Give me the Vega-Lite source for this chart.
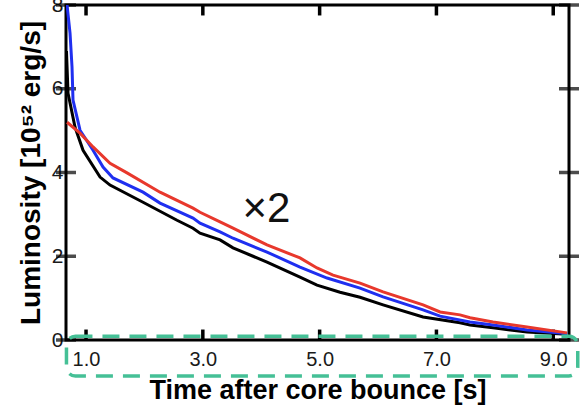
{
  "$schema": "https://vega.github.io/schema/vega-lite/v6.json",
  "width": 503,
  "height": 335,
  "autosize": {"type": "none"},
  "padding": {"left": 66, "top": 5, "right": 13, "bottom": 66},
  "background": "white",
  "config": {
    "font": "Liberation Sans",
    "view": {"stroke": "black", "strokeWidth": 3},
    "axis": {
      "domain": false,
      "ticks": false,
      "grid": false,
      "labelFont": "Liberation Sans",
      "labelFontSize": 20,
      "labelColor": "#1a1a1a",
      "titleFont": "Liberation Sans",
      "titleFontWeight": "bold",
      "titleColor": "black"
    }
  },
  "datasets": {
    "curves": [
      {"series": "black", "t": 0.665, "L": 6.9},
      {"series": "black", "t": 0.692, "L": 5.89},
      {"series": "black", "t": 0.812, "L": 5.08},
      {"series": "black", "t": 0.949, "L": 4.53},
      {"series": "black", "t": 1.24, "L": 3.89},
      {"series": "black", "t": 1.411, "L": 3.7},
      {"series": "black", "t": 1.976, "L": 3.29},
      {"series": "black", "t": 2.558, "L": 2.86},
      {"series": "black", "t": 2.832, "L": 2.67},
      {"series": "black", "t": 2.952, "L": 2.55},
      {"series": "black", "t": 3.295, "L": 2.39},
      {"series": "black", "t": 3.517, "L": 2.2},
      {"series": "black", "t": 4.099, "L": 1.86},
      {"series": "black", "t": 4.664, "L": 1.5},
      {"series": "black", "t": 4.955, "L": 1.31},
      {"series": "black", "t": 5.349, "L": 1.14},
      {"series": "black", "t": 5.692, "L": 1.02},
      {"series": "black", "t": 6.086, "L": 0.84},
      {"series": "black", "t": 6.771, "L": 0.55},
      {"series": "black", "t": 7.404, "L": 0.41},
      {"series": "black", "t": 7.575, "L": 0.36},
      {"series": "black", "t": 7.969, "L": 0.29},
      {"series": "black", "t": 8.551, "L": 0.19},
      {"series": "black", "t": 9.236, "L": 0.14},

      {"series": "blue", "t": 0.675, "L": 8.0},
      {"series": "blue", "t": 0.726, "L": 7.33},
      {"series": "blue", "t": 0.76, "L": 6.52},
      {"series": "blue", "t": 0.777, "L": 5.73},
      {"series": "blue", "t": 0.897, "L": 5.01},
      {"series": "blue", "t": 1.12, "L": 4.53},
      {"series": "blue", "t": 1.291, "L": 4.13},
      {"series": "blue", "t": 1.462, "L": 3.87},
      {"series": "blue", "t": 1.976, "L": 3.53},
      {"series": "blue", "t": 2.267, "L": 3.27},
      {"series": "blue", "t": 2.832, "L": 2.91},
      {"series": "blue", "t": 2.952, "L": 2.79},
      {"series": "blue", "t": 3.295, "L": 2.58},
      {"series": "blue", "t": 3.517, "L": 2.43},
      {"series": "blue", "t": 4.099, "L": 2.1},
      {"series": "blue", "t": 4.664, "L": 1.74},
      {"series": "blue", "t": 5.127, "L": 1.48},
      {"series": "blue", "t": 5.692, "L": 1.24},
      {"series": "blue", "t": 6.086, "L": 1.03},
      {"series": "blue", "t": 6.771, "L": 0.72},
      {"series": "blue", "t": 7.062, "L": 0.57},
      {"series": "blue", "t": 7.575, "L": 0.43},
      {"series": "blue", "t": 7.969, "L": 0.36},
      {"series": "blue", "t": 8.551, "L": 0.24},
      {"series": "blue", "t": 9.116, "L": 0.17},
      {"series": "blue", "t": 9.24, "L": 0.15},

      {"series": "red", "t": 0.675, "L": 5.2},
      {"series": "red", "t": 0.897, "L": 4.94},
      {"series": "red", "t": 1.12, "L": 4.61},
      {"series": "red", "t": 1.411, "L": 4.22},
      {"series": "red", "t": 1.702, "L": 3.99},
      {"series": "red", "t": 2.267, "L": 3.53},
      {"series": "red", "t": 2.832, "L": 3.15},
      {"series": "red", "t": 2.952, "L": 3.05},
      {"series": "red", "t": 3.295, "L": 2.82},
      {"series": "red", "t": 3.517, "L": 2.67},
      {"series": "red", "t": 4.099, "L": 2.27},
      {"series": "red", "t": 4.664, "L": 1.96},
      {"series": "red", "t": 4.955, "L": 1.72},
      {"series": "red", "t": 5.229, "L": 1.55},
      {"series": "red", "t": 5.692, "L": 1.36},
      {"series": "red", "t": 6.086, "L": 1.15},
      {"series": "red", "t": 6.771, "L": 0.84},
      {"series": "red", "t": 7.062, "L": 0.67},
      {"series": "red", "t": 7.404, "L": 0.6},
      {"series": "red", "t": 7.575, "L": 0.53},
      {"series": "red", "t": 7.969, "L": 0.43},
      {"series": "red", "t": 8.551, "L": 0.31},
      {"series": "red", "t": 9.236, "L": 0.17}
    ],
    "xticks": [{"t": 1}, {"t": 3}, {"t": 5}, {"t": 7}, {"t": 9}],
    "yticks": [{"L": 0}, {"L": 2}, {"L": 4}, {"L": 6}, {"L": 8}],
    "note": [
      {"t": 4.09, "L": 2.82, "label": "×2"}
    ],
    "highlight": [
      {"t0": 0.665, "t1": 9.42, "L0": 0.09, "L1": -0.86}
    ]
  },
  "layer": [
    {
      "data": {"name": "xticks"},
      "mark": {"type": "rule", "color": "black", "strokeWidth": 3.5},
      "encoding": {
        "x": {
          "field": "t", "type": "quantitative",
          "scale": {"domain": [0.657, 9.27], "nice": false, "zero": false},
          "axis": {
            "orient": "bottom",
            "values": [1, 3, 5, 7, 9],
            "format": ".1f",
            "labelPadding": 9,
            "labelFontSize": 20,
            "title": "Time after core bounce [s]",
            "titleFontSize": 27,
            "titlePadding": 8
          }
        },
        "y": {
          "datum": 0, "type": "quantitative",
          "scale": {"domain": [0, 8], "nice": false},
          "axis": {
            "orient": "left",
            "values": [0, 2, 4, 6, 8],
            "labelPadding": 3,
            "labelFontSize": 21,
            "title": "Luminosity [10⁵² erg/s]",
            "titleFontSize": 28,
            "titlePadding": 6
          }
        },
        "y2": {"datum": 0.25}
      }
    },
    {
      "data": {"name": "xticks"},
      "mark": {"type": "rule", "color": "black", "strokeWidth": 3.5},
      "encoding": {
        "x": {"field": "t", "type": "quantitative"},
        "y": {"datum": 8, "type": "quantitative"},
        "y2": {"datum": 7.75}
      }
    },
    {
      "data": {"name": "yticks"},
      "mark": {"type": "tick", "orient": "horizontal", "color": "black", "size": 20, "thickness": 3.5},
      "encoding": {
        "y": {"field": "L", "type": "quantitative"},
        "x": {"datum": 0.657, "type": "quantitative"}
      }
    },
    {
      "data": {"name": "yticks"},
      "mark": {"type": "tick", "orient": "horizontal", "color": "black", "size": 20, "thickness": 3.5},
      "encoding": {
        "y": {"field": "L", "type": "quantitative"},
        "x": {"datum": 9.27, "type": "quantitative"}
      }
    },
    {
      "data": {"name": "curves"},
      "mark": {"type": "line", "strokeWidth": 3, "clip": true},
      "encoding": {
        "x": {"field": "t", "type": "quantitative"},
        "y": {"field": "L", "type": "quantitative"},
        "color": {
          "field": "series", "type": "nominal",
          "scale": {"domain": ["black", "blue", "red"], "range": ["#000000", "#1f2ff0", "#e8382c"]},
          "legend": null
        },
        "order": {"field": "t", "type": "quantitative"}
      }
    },
    {
      "data": {"name": "note"},
      "mark": {"type": "text", "fontSize": 42, "align": "center", "baseline": "alphabetic", "color": "#111111", "font": "Liberation Sans"},
      "encoding": {
        "x": {"field": "t", "type": "quantitative"},
        "y": {"field": "L", "type": "quantitative"},
        "text": {"field": "label"}
      }
    },
    {
      "data": {"name": "highlight"},
      "mark": {"type": "rect", "fill": null, "filled": false, "stroke": "#45c096", "strokeWidth": 3.5, "strokeDash": [17, 10], "cornerRadius": 9, "clip": false},
      "encoding": {
        "x": {"field": "t0", "type": "quantitative"},
        "x2": {"field": "t1"},
        "y": {"field": "L0", "type": "quantitative"},
        "y2": {"field": "L1"}
      }
    }
  ]
}
